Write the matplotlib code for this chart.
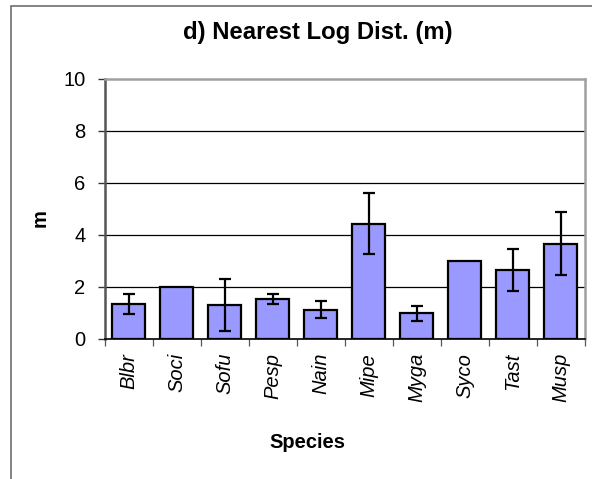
import matplotlib.pyplot as plt
from matplotlib.patches import Rectangle

plt.rcParams['font.family'] = ['Liberation Sans', 'DejaVu Sans']

# datos
especies = ['Blbr', 'Soci', 'Sofu', 'Pesp', 'Nain', 'Mipe', 'Myga', 'Syco', 'Tast', 'Musp']
media = [1.35, 2.0, 1.31, 1.53, 1.13, 4.44, 0.99, 3.0, 2.65, 3.67]
error = [0.38, 0.0, 1.0, 0.19, 0.34, 1.18, 0.28, 0.0, 0.81, 1.21]

W, H = 592, 479
fig = plt.figure(figsize=(W / 100, H / 100), dpi=100)
ax = fig.add_axes([104.7 / W, 1 - 339 / H, 480 / W, 260 / H])

# marco exterior del grafico
fig.patches.append(Rectangle((10.5 / W, -0.1), 1.2, 1 - 5.5 / H + 0.1,
                             transform=fig.transFigure, fill=False,
                             edgecolor='#6e6e6e', linewidth=1.2))

pos = range(len(especies))
ax.bar(pos, media, width=0.69, color='#9999ff', edgecolor='black',
       linewidth=1.6, zorder=3)
con_error = [i for i in pos if error[i] > 0]
ax.errorbar([i for i in con_error], [media[i] for i in con_error],
            yerr=[error[i] for i in con_error], fmt='none', ecolor='black',
            elinewidth=1.6, capsize=4.5, capthick=1.6, zorder=4)

ax.set_xlim(-0.5, len(especies) - 0.5)
ax.set_ylim(0, 10)
ax.set_yticks([0, 2, 4, 6, 8, 10])
for y in [2, 4, 6, 8]:
    ax.axhline(y, color='black', linewidth=0.9, zorder=1)

ax.set_xticks([i - 0.5 for i in range(len(especies) + 1)])
ax.set_xticklabels([])
ax.set_xticks(list(pos), minor=True)
ax.set_xticklabels(especies, minor=True, rotation=90, fontstyle='italic',
                   fontsize=14.5)
ax.tick_params(axis='x', which='major', direction='out', length=5,
               color='#555555', width=0.9)
ax.tick_params(axis='x', which='minor', length=0, pad=10)
ax.tick_params(axis='y', direction='out', length=5, width=1, pad=9,
               labelsize=14.5, color='#333333')

ax.spines['left'].set_color('#555555')
ax.spines['left'].set_linewidth(1.8)
ax.spines['top'].set_color('#a0a0a0')
ax.spines['top'].set_linewidth(1.8)
ax.spines['right'].set_color('#a0a0a0')
ax.spines['right'].set_linewidth(1.8)
ax.spines['bottom'].set_color('black')
ax.spines['bottom'].set_linewidth(1.2)

fig.text(318 / W, 1 - 33 / H, 'd) Nearest Log Dist. (m)', ha='center',
         va='center', fontsize=17.2, fontweight='bold')
fig.text(40 / W, 1 - 218 / H, 'm', ha='center', va='center', rotation=90,
         fontsize=14.5, fontweight='bold')
fig.text(307 / W, 1 - 442 / H, 'Species', ha='center', va='center',
         fontsize=14.5, fontweight='bold')

fig.savefig('out.png', dpi=100)
